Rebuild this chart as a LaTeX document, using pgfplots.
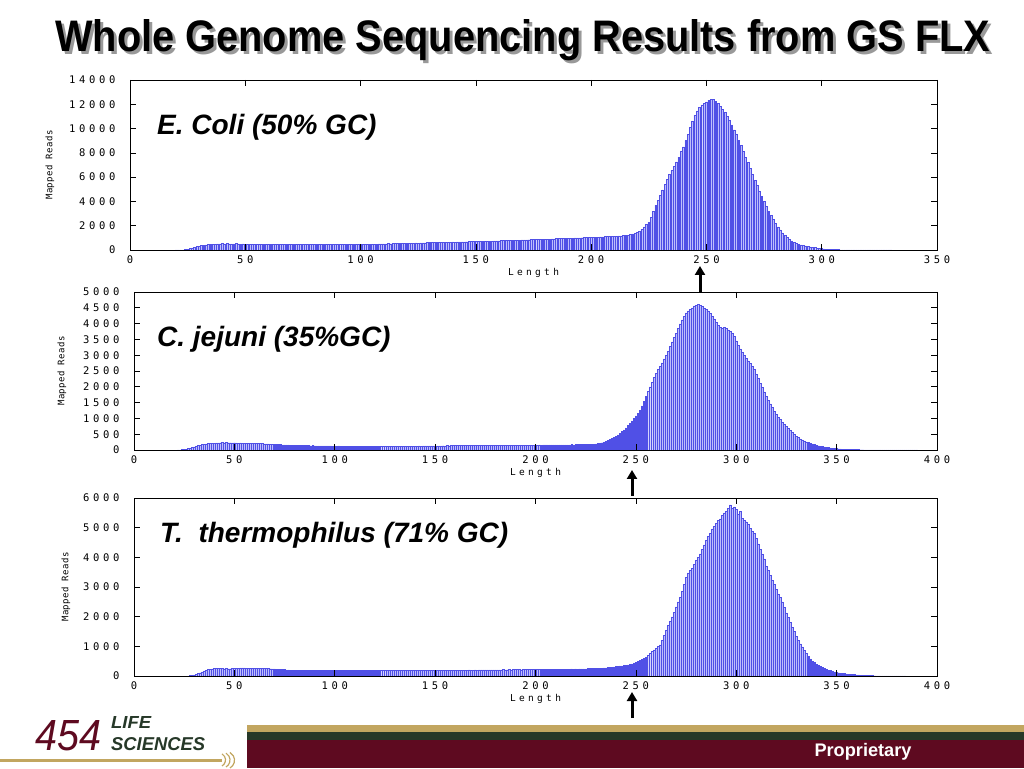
\documentclass[border=0pt]{standalone}
\usepackage{pgfplots}
\pgfplotsset{compat=1.18}
\usepackage{fontspec}
\usetikzlibrary{arrows.meta}
\setmainfont{Liberation Sans}
\newfontfamily\tickfam[LetterSpace=35]{DejaVu Sans Mono}
\newfontfamily\ylabfam[LetterSpace=5]{DejaVu Sans Mono}
\newcommand\tickfont{\tickfam\fontsize{10.5}{11}\selectfont}
\newcommand\xlabfont{\tickfam\fontsize{9.5}{10}\selectfont}
\newcommand\ylabfont{\ylabfam\fontsize{9}{10}\selectfont}

\definecolor{barline}{RGB}{80,80,230}
\definecolor{barfill}{RGB}{190,190,252}
\definecolor{maroon}{RGB}{94,10,32}
\definecolor{tan}{RGB}{194,166,96}
\definecolor{dkgreen}{RGB}{38,56,40}

\pgfplotsset{
  panel/.style={
    scale only axis, anchor=south west, axis on top,
    tick align=inside, major tick length=6pt,
    tick style={black, line width=0.6pt},
    axis line style={black, line width=0.8pt},
    xmin=0, ymin=0, xtick distance=50,
    scaled y ticks=false,
    /pgf/number format/assume math mode=true,
    /pgf/number format/1000 sep={},
    ticklabel style={font=\tickfont},
    yticklabel style={xshift=-11pt},
    xticklabel style={yshift=-2pt},
    xlabel={Length}, ylabel={Mapped Reads},
    every axis x label/.style={at={(axis description cs:0.5,0)}, anchor=center, yshift=-23pt, font=\xlabfont},
    every axis y label/.style={at={(axis description cs:0,0.5)}, anchor=center, rotate=90, font=\ylabfont},
  },
  hist/.style={ybar, bar width=0.8, draw=barline, fill=barfill, line width=0.45pt},
}

\begin{document}
\begin{tikzpicture}
\path[use as bounding box, fill=white] (0pt,0pt) rectangle (1024pt,768pt);

% title with shadow
\node[anchor=base west, inner sep=0, text=black!40] at (58pt,713pt)
  {\resizebox{935pt}{32pt}{\bfseries Whole Genome Sequencing Results from GS FLX}};
\node[anchor=base west, inner sep=0] at (55pt,716pt)
  {\resizebox{935pt}{32pt}{\bfseries Whole Genome Sequencing Results from GS FLX}};

% ---------------- E. coli
\begin{axis}[panel, at={(130pt,518pt)}, width=807pt, height=170pt,
  xmax=350, ymax=14000, ytick distance=2000, ylabel style={yshift=80pt}]
\addplot[hist] coordinates {
(20,0)(21,5)(22,10)(23,20)(24,40)(25,80)(26,130)(27,180)(28,230)(29,280)
(30,320)(31,360)(32,390)(33,420)(34,440)(35,460)(36,480)(37,490)(38,500)(39,510)
(40,520)(41,510)(42,520)(43,510)(44,500)(45,510)(46,520)(47,500)(48,490)(49,500)
(50,490)(51,480)(52,470)(53,475)(54,465)(55,470)(56,460)(57,465)(58,470)(59,460)
(60,455)(61,460)(62,465)(63,455)(64,460)(65,450)(66,455)(67,460)(68,450)(69,455)
(70,445)(71,450)(72,455)(73,450)(74,445)(75,450)(76,455)(77,445)(78,450)(79,445)
(80,450)(81,455)(82,450)(83,445)(84,450)(85,455)(86,450)(87,455)(88,450)(89,455)
(90,460)(91,455)(92,460)(93,455)(94,460)(95,465)(96,460)(97,465)(98,470)(99,465)
(100,470)(101,475)(102,470)(103,480)(104,475)(105,485)(106,490)(107,485)(108,495)(109,500)
(110,505)(111,510)(112,520)(113,515)(114,525)(115,535)(116,530)(117,540)(118,550)(119,545)
(120,555)(121,565)(122,560)(123,570)(124,580)(125,575)(126,585)(127,595)(128,590)(129,600)
(130,610)(131,605)(132,615)(133,625)(134,620)(135,630)(136,640)(137,635)(138,645)(139,650)
(140,660)(141,655)(142,665)(143,670)(144,665)(145,675)(146,680)(147,690)(148,685)(149,695)
(150,700)(151,705)(152,710)(153,715)(154,720)(155,725)(156,730)(157,740)(158,745)(159,750)
(160,760)(161,765)(162,770)(163,780)(164,785)(165,790)(166,800)(167,805)(168,810)(169,820)
(170,825)(171,830)(172,840)(173,845)(174,850)(175,860)(176,865)(177,870)(178,880)(179,885)
(180,890)(181,900)(182,905)(183,910)(184,920)(185,930)(186,935)(187,940)(188,950)(189,960)
(190,965)(191,970)(192,980)(193,990)(194,995)(195,1000)(196,1010)(197,1020)(198,1030)(199,1035)
(200,1040)(201,1050)(202,1060)(203,1070)(204,1080)(205,1090)(206,1100)(207,1110)(208,1120)(209,1130)
(210,1140)(211,1150)(212,1160)(213,1170)(214,1180)(215,1200)(216,1230)(217,1270)(218,1320)(219,1380)
(220,1450)(221,1550)(222,1700)(223,1900)(224,2100)(225,2300)(226,2700)(227,3200)(228,3700)(229,4100)
(230,4500)(231,4950)(232,5400)(233,5800)(234,6200)(235,6550)(236,6900)(237,7250)(238,7650)(239,8100)
(240,8500)(241,9000)(242,9550)(243,10100)(244,10600)(245,11100)(246,11450)(247,11750)(248,11950)(249,12100)
(250,12200)(251,12350)(252,12420)(253,12380)(254,12250)(255,12050)(256,11850)(257,11600)(258,11350)(259,11000)
(260,10650)(261,10300)(262,9900)(263,9500)(264,9050)(265,8600)(266,8100)(267,7650)(268,7200)(269,6700)
(270,6250)(271,5750)(272,5300)(273,4850)(274,4400)(275,4000)(276,3600)(277,3200)(278,2850)(279,2500)
(280,2200)(281,1900)(282,1650)(283,1420)(284,1200)(285,1050)(286,900)(287,760)(288,650)(289,560)
(290,480)(291,420)(292,370)(293,330)(294,290)(295,250)(296,220)(297,190)(298,160)(299,140)
(300,120)(301,100)(302,80)(303,60)(304,50)(305,40)(306,30)(307,25)(308,20)(309,15)
(310,12)(311,10)(312,8)(313,7)(314,6)(315,6)(316,5)(317,5)(318,4)(319,4)
(320,3)(321,3)(322,3)(323,2)(324,2)(325,2)(326,1)(327,1)(328,1)(329,1)(330,0)
};
\end{axis}

% ---------------- C. jejuni
\begin{axis}[panel, at={(134pt,318pt)}, width=803pt, height=158pt,
  xmax=400, ymax=5000, ytick distance=500, ylabel style={yshift=72pt}]
\addplot[hist] coordinates {
(22,0)(23,5)(24,10)(25,20)(26,30)(27,45)(28,60)(29,80)
(30,100)(31,120)(32,140)(33,155)(34,170)(35,185)(36,195)(37,205)(38,210)(39,215)
(40,220)(41,225)(42,225)(43,230)(44,235)(45,230)(46,235)(47,230)(48,230)(49,225)
(50,230)(51,225)(52,220)(53,225)(54,220)(55,215)(56,220)(57,215)(58,210)(59,215)
(60,210)(61,205)(62,200)(63,205)(64,200)(65,195)(66,190)(67,190)(68,185)(69,180)
(70,180)(71,175)(72,170)(73,170)(74,165)(75,165)(76,160)(77,160)(78,155)(79,150)
(80,150)(81,145)(82,145)(83,145)(84,140)(85,140)(86,140)(87,138)(88,135)(89,137)
(90,135)(91,132)(92,134)(93,130)(94,132)(95,128)(96,130)(97,127)(98,129)(99,126)
(100,128)(101,125)(102,127)(103,124)(104,126)(105,122)(106,124)(107,121)(108,123)(109,120)
(110,122)(111,120)(112,123)(113,121)(114,124)(115,122)(116,125)(117,122)(118,124)(119,121)
(120,123)(121,120)(122,122)(123,120)(124,121)(125,119)(126,121)(127,120)(128,122)(129,119)
(130,121)(131,120)(132,122)(133,121)(134,123)(135,122)(136,124)(137,123)(138,125)(139,124)
(140,126)(141,125)(142,127)(143,126)(144,128)(145,127)(146,130)(147,128)(148,131)(149,130)
(150,132)(151,131)(152,133)(153,132)(154,135)(155,133)(156,136)(157,135)(158,137)(159,136)
(160,138)(161,137)(162,139)(163,138)(164,140)(165,139)(166,141)(167,140)(168,142)(169,141)
(170,143)(171,142)(172,144)(173,143)(174,145)(175,144)(176,146)(177,145)(178,147)(179,146)
(180,148)(181,147)(182,149)(183,148)(184,150)(185,149)(186,151)(187,150)(188,152)(189,151)
(190,153)(191,152)(192,154)(193,153)(194,155)(195,154)(196,156)(197,155)(198,157)(199,156)
(200,158)(201,157)(202,159)(203,158)(204,160)(205,159)(206,161)(207,160)(208,162)(209,161)
(210,163)(211,162)(212,164)(213,163)(214,165)(215,164)(216,166)(217,165)(218,167)(219,166)
(220,168)(221,167)(222,170)(223,172)(224,174)(225,176)(226,178)(227,180)(228,183)(229,186)
(230,190)(231,200)(232,215)(233,230)(234,250)(235,275)(236,300)(237,330)(238,365)(239,400)
(240,440)(241,480)(242,530)(243,580)(244,640)(245,700)(246,770)(247,840)(248,920)(249,1000)
(250,1080)(251,1160)(252,1250)(253,1400)(254,1550)(255,1700)(256,1850)(257,2000)(258,2150)(259,2300)
(260,2430)(261,2550)(262,2650)(263,2760)(264,2880)(265,3000)(266,3130)(267,3270)(268,3420)(269,3560)
(270,3700)(271,3850)(272,3990)(273,4120)(274,4240)(275,4340)(276,4400)(277,4450)(278,4500)(279,4560)
(280,4580)(281,4600)(282,4570)(283,4540)(284,4500)(285,4460)(286,4400)(287,4320)(288,4240)(289,4150)
(290,4050)(291,3950)(292,3880)(293,3860)(294,3880)(295,3850)(296,3800)(297,3750)(298,3700)(299,3600)
(300,3450)(301,3320)(302,3200)(303,3100)(304,3000)(305,2900)(306,2820)(307,2740)(308,2650)(309,2550)
(310,2400)(311,2260)(312,2120)(313,1980)(314,1840)(315,1700)(316,1580)(317,1460)(318,1340)(319,1220)
(320,1120)(321,1040)(322,960)(323,880)(324,800)(325,740)(326,680)(327,620)(328,560)(329,500)
(330,440)(331,390)(332,350)(333,320)(334,290)(335,260)(336,235)(337,210)(338,190)(339,170)
(340,150)(341,135)(342,120)(343,105)(344,95)(345,85)(346,75)(347,65)(348,55)(349,50)
(350,45)(351,40)(352,35)(353,30)(354,25)(355,20)(356,18)(357,15)(358,13)(359,11)
(360,10)(361,9)(362,8)(363,8)(364,7)(365,7)(366,6)(367,6)(368,5)(369,5)
(370,5)(371,4)(372,4)(373,4)(374,3)(375,3)(376,3)(377,3)(378,2)(379,2)
(380,2)(381,2)(382,2)(383,1)(384,1)(385,1)(386,1)(387,1)(388,1)(389,1)(390,0)
};
\end{axis}

% ---------------- T. thermophilus
\begin{axis}[panel, at={(134pt,92pt)}, width=803pt, height=178pt,
  xmax=400, ymax=6000, ytick distance=1000, ylabel style={yshift=68pt}]
\addplot[hist] coordinates {
(27,0)(28,10)(29,20)
(30,35)(31,55)(32,80)(33,110)(34,140)(35,170)(36,195)(37,215)(38,230)(39,240)
(40,250)(41,250)(42,255)(43,250)(44,250)(45,245)(46,250)(47,245)(48,245)(49,250)
(50,255)(51,260)(52,265)(53,270)(54,275)(55,270)(56,265)(57,260)(58,255)(59,255)
(60,250)(61,250)(62,255)(63,250)(64,260)(65,255)(66,250)(67,250)(68,245)(69,240)
(70,240)(71,235)(72,230)(73,225)(74,220)(75,215)(76,210)(77,205)(78,200)(79,198)
(80,195)(81,192)(82,195)(83,190)(84,192)(85,188)(86,190)(87,187)(88,190)(89,186)
(90,188)(91,185)(92,188)(93,184)(94,187)(95,183)(96,186)(97,184)(98,187)(99,183)
(100,186)(101,184)(102,188)(103,183)(104,186)(105,182)(106,185)(107,183)(108,187)(109,182)
(110,186)(111,190)(112,185)(113,188)(114,184)(115,187)(116,183)(117,186)(118,182)(119,185)
(120,188)(121,184)(122,187)(123,183)(124,190)(125,186)(126,189)(127,185)(128,188)(129,184)
(130,187)(131,183)(132,186)(133,189)(134,185)(135,188)(136,184)(137,190)(138,186)(139,189)
(140,185)(141,188)(142,191)(143,187)(144,190)(145,186)(146,189)(147,192)(148,188)(149,191)
(150,194)(151,190)(152,193)(153,196)(154,192)(155,195)(156,191)(157,194)(158,197)(159,193)
(160,196)(161,199)(162,195)(163,198)(164,201)(165,197)(166,200)(167,203)(168,199)(169,202)
(170,205)(171,201)(172,204)(173,207)(174,203)(175,206)(176,209)(177,205)(178,208)(179,204)
(180,207)(181,210)(182,206)(183,209)(184,212)(185,208)(186,211)(187,214)(188,210)(189,213)
(190,216)(191,212)(192,215)(193,211)(194,214)(195,217)(196,213)(197,216)(198,219)(199,215)
(200,218)(201,214)(202,221)(203,218)(204,224)(205,220)(206,226)(207,222)(208,228)(209,224)
(210,230)(211,226)(212,232)(213,228)(214,234)(215,230)(216,236)(217,232)(218,238)(219,234)
(220,240)(221,236)(222,242)(223,238)(224,244)(225,240)(226,246)(227,250)(228,246)(229,252)
(230,255)(231,258)(232,260)(233,265)(234,270)(235,275)(236,280)(237,290)(238,300)(239,310)
(240,320)(241,330)(242,340)(243,345)(244,355)(245,360)(246,375)(247,390)(248,410)(249,440)
(250,470)(251,500)(252,530)(253,560)(254,590)(255,630)(256,690)(257,760)(258,840)(259,880)
(260,930)(261,990)(262,1050)(263,1200)(264,1380)(265,1540)(266,1700)(267,1850)(268,1990)(269,2150)
(270,2330)(271,2500)(272,2650)(273,2850)(274,3100)(275,3330)(276,3480)(277,3560)(278,3640)(279,3760)
(280,3900)(281,4000)(282,4120)(283,4270)(284,4420)(285,4580)(286,4700)(287,4820)(288,4960)(289,5050)
(290,5150)(291,5250)(292,5300)(293,5420)(294,5500)(295,5560)(296,5650)(297,5770)(298,5640)(299,5700)
(300,5620)(301,5450)(302,5550)(303,5320)(304,5240)(305,5200)(306,5120)(307,4980)(308,4880)(309,4800)
(310,4630)(311,4450)(312,4280)(313,4100)(314,3950)(315,3700)(316,3550)(317,3400)(318,3230)(319,3080)
(320,2920)(321,2760)(322,2640)(323,2500)(324,2310)(325,2130)(326,1970)(327,1810)(328,1650)(329,1500)
(330,1340)(331,1190)(332,1080)(333,980)(334,860)(335,760)(336,660)(337,580)(338,500)(339,450)
(340,400)(341,350)(342,320)(343,290)(344,250)(345,225)(346,200)(347,180)(348,160)(349,140)
(350,125)(351,110)(352,100)(353,90)(354,80)(355,70)(356,62)(357,55)(358,50)(359,45)
(360,40)(361,35)(362,30)(363,26)(364,22)(365,19)(366,16)(367,13)(368,11)(369,9)
(370,8)(371,7)(372,6)(373,5)(374,5)(375,4)(376,4)(377,3)(378,3)(379,2)
(380,2)(381,2)(382,1)(383,1)(384,1)(385,0)
};
\end{axis}

% panel captions
\node[anchor=base west, inner sep=0] at (157pt,633pt) {\fontsize{28}{30}\selectfont\bfseries\itshape E. Coli (50\% GC)};
\node[anchor=base west, inner sep=0] at (157pt,421pt) {\fontsize{28}{30}\selectfont\bfseries\itshape C. jejuni (35\%GC)};
\node[anchor=base west, inner sep=0] at (160pt,225pt) {\fontsize{28}{30}\selectfont\bfseries\itshape T.\ \ thermophilus (71\% GC)};

% arrows at 250
\draw[line width=3pt, -{Triangle[width=10pt,length=9pt]}] (700pt,476pt) -- (700pt,502pt);
\draw[line width=3pt, -{Triangle[width=10pt,length=9pt]}] (632pt,272pt) -- (632pt,298pt);
\draw[line width=3pt, -{Triangle[width=10pt,length=9pt]}] (632pt,50pt) -- (632pt,76pt);

% footer bars
\fill[tan] (247pt,36pt) rectangle (1024pt,43pt);
\fill[dkgreen] (247pt,28pt) rectangle (1024pt,36pt);
\fill[maroon] (247pt,0pt) rectangle (1024pt,28pt);
\node[anchor=base, inner sep=0, text=white] at (863pt,12pt)
  {\resizebox{97pt}{!}{\fontsize{18}{20}\selectfont\bfseries Proprietary}};

% logo
\node[anchor=base west, inner sep=0, text=maroon] at (35pt,18pt)
  {\resizebox{66pt}{30pt}{\itshape 454}};
\node[anchor=base west, inner sep=0, text=dkgreen] at (111pt,40pt)
  {\resizebox{40pt}{12pt}{\bfseries\itshape LIFE}};
\node[anchor=base west, inner sep=0, text=dkgreen] at (111pt,18pt)
  {\resizebox{94pt}{13pt}{\bfseries\itshape SCIENCES}};
\draw[tan, line width=3pt] (0pt,8pt) -- (222pt,8pt);
\draw[tan, line width=1.2pt] (222pt,2pt) arc[start angle=-60, end angle=60, radius=7pt];
\draw[tan, line width=1.2pt] (226pt,1pt) arc[start angle=-60, end angle=60, radius=8pt];
\draw[tan, line width=1.2pt] (230pt,0pt) arc[start angle=-60, end angle=60, radius=9pt];
\end{tikzpicture}
\end{document}
